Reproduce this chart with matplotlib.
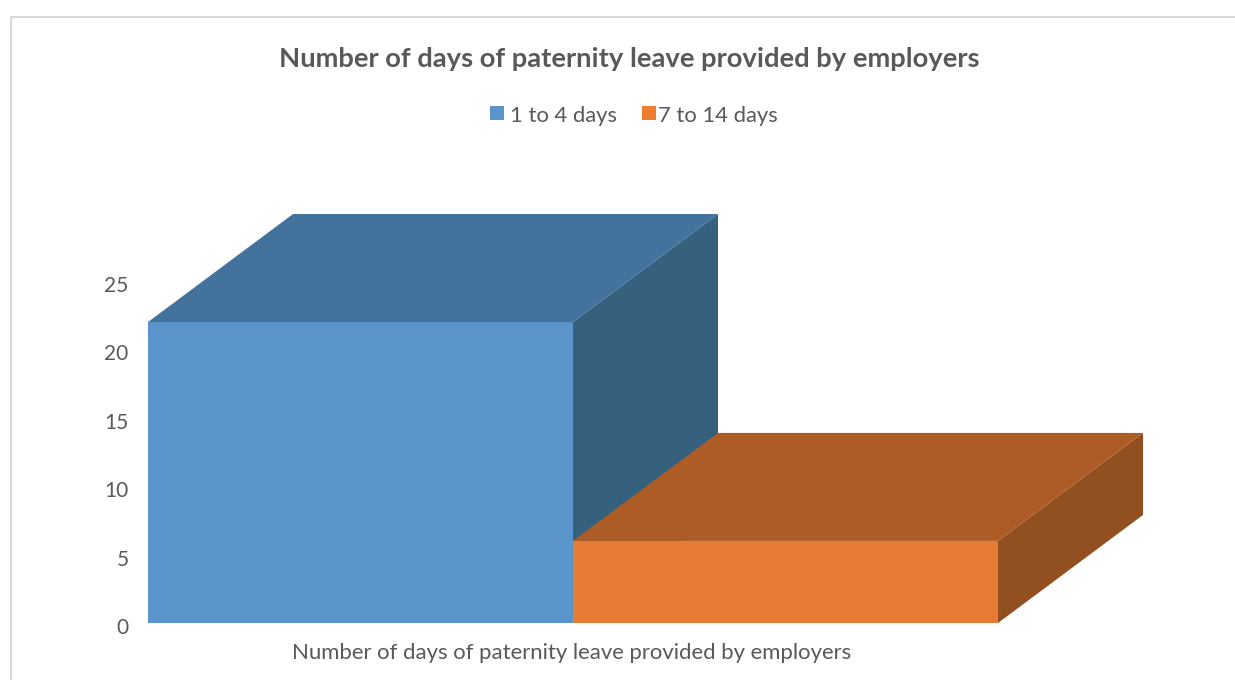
import matplotlib
matplotlib.use("Agg")
import matplotlib.pyplot as plt
from matplotlib.patches import Polygon, Rectangle
from matplotlib.transforms import ScaledTranslation

series = ["1 to 4 days", "7 to 14 days"]
values = [22, 6]
category = "Number of days of paternity leave provided by employers"
yticks = [0, 5, 10, 15, 20, 25]

front = ["#5B94CB", "#E67B35"]
top = ["#43739C", "#AD5C26"]
side = ["#35617F", "#924F20"]
text_color = "#595959"

W, H = 1235, 680
plt.rcParams["font.family"] = ["Lato", "DejaVu Sans"]

fig = plt.figure(figsize=(W / 100, H / 100), dpi=100)

# axes placed in pixels: x 148..1148, y 623 up to 203
left, right, bottom, upper = 148, 1148, 623, 203
ax = fig.add_axes([left / W, 1 - bottom / H, (right - left) / W, (bottom - upper) / H])
px_x = 425.0
px_y = 13.68
ax.set_xlim(0, (right - left) / px_x)
ax.set_ylim(0, (bottom - upper) / px_y)
ax.patch.set_alpha(0)
for s in ax.spines.values():
    s.set_visible(False)

depth_x = 145 / px_x
depth_y = 108 / px_y

# one box per series, back to front
for i, v in enumerate(values):
    x0, x1 = i, i + 1
    ax.add_patch(Polygon([(x1, 0), (x1 + depth_x, depth_y), (x1 + depth_x, v + depth_y), (x1, v)],
                         facecolor=side[i], edgecolor="none"))
    ax.add_patch(Polygon([(x0, v), (x0 + depth_x, v + depth_y), (x1 + depth_x, v + depth_y), (x1, v)],
                         facecolor=top[i], edgecolor="none"))
    ax.add_patch(Rectangle((x0, 0), 1, v, facecolor=front[i], edgecolor="none"))

ax.set_yticks(yticks)
ax.tick_params(axis="y", length=0, pad=14, labelsize=15, labelcolor=text_color)
ax.set_xticks([])
# tick labels sit a little below their gridline position in the original
shift = ScaledTranslation(0, -3 / 100, fig.dpi_scale_trans)
for lab in ax.get_yticklabels():
    lab.set_transform(lab.get_transform() + shift)

fig.text(572 / W, 1 - 653 / H, category, ha="center", va="center", fontsize=15.9, color=text_color)
fig.text(629 / W, 1 - 59 / H, "Number of days of paternity leave provided by employers",
         ha="center", va="center", fontsize=19.7, fontweight="bold", color=text_color)

# legend
for i, (name, lx, tx) in enumerate(zip(series, [490, 642], [510, 658])):
    fig.add_artist(Rectangle((lx / W, 1 - 120 / H), 14 / W, 14 / H, transform=fig.transFigure,
                             facecolor=front[i] if i == 0 else "#ED7D31", edgecolor="none"))
    fig.text(tx / W, 1 - 116 / H, name, ha="left", va="center", fontsize=15.8, color=text_color)

# chart border, only left and top are in the crop
fig.add_artist(plt.Line2D([11 / W, 11 / W, 1], [0, 1 - 17 / H, 1 - 17 / H],
                          transform=fig.transFigure, color="#D9D9D9", lw=1.5))

fig.savefig("out.png", dpi=100)
plt.close(fig)
